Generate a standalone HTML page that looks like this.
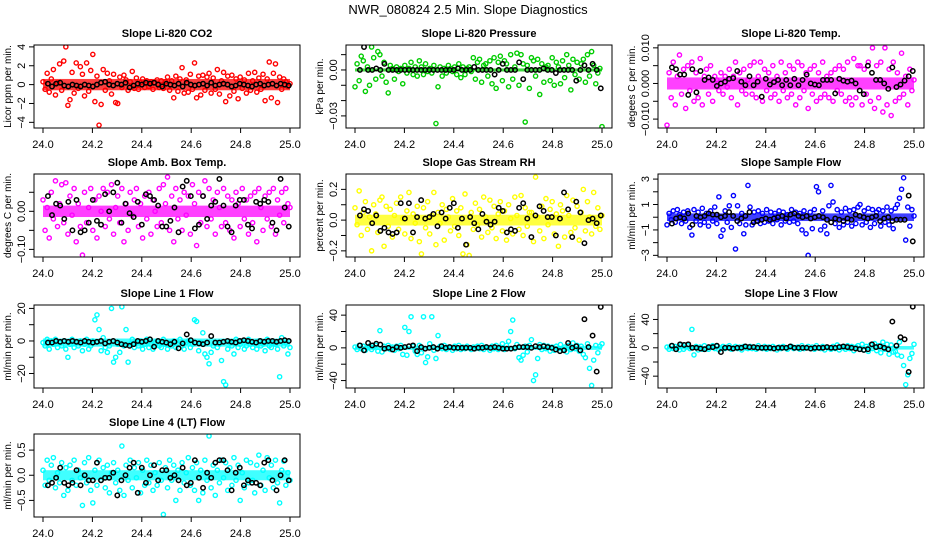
<!DOCTYPE html>
<html><head><meta charset="utf-8">
<style>
html,body{margin:0;padding:0;background:#fff;}
svg{display:block;font-family:"Liberation Sans",sans-serif;}
</style></head>
<body>
<svg id="chart" width="936" height="540" viewBox="0 0 936 540" xmlns="http://www.w3.org/2000/svg">
<text x="468" y="14" text-anchor="middle" font-size="13">NWR_080824  2.5 Min. Slope Diagnostics</text>
</svg>
<script>
const xTicks = [24.0, 24.2, 24.4, 24.6, 24.8, 25.0];
const xTickLabels = ["24.0", "24.2", "24.4", "24.6", "24.8", "25.0"];
const colorRange = [24.0, 25.0];
const blackRange = [24.02, 24.995];

const co2Vals = [0.3,-0.5,1.2,-0.8,0.6,1.6,-1.1,0.2,2.2,-0.6, 2.5,4.0,-2.2,-1.6,1.3,-0.9,2.3,-0.4,1.9,1.1, -1.2,2.3,-0.7,1.5,3.2,-1.8,0.9,-4.3,-2.1,1.6, -0.6,1.2,0.4,-1.0,1.1,-1.9,-2.0,0.8,-0.3,1.0, 0.5,-0.6,0.3,1.4,-0.4,0.7,-0.5,0.2,0.6,-0.3, 0.4,-0.2,0.3,-0.5,0.2,0.5,-0.3,0.4,-0.4,0.3, 0.8,-0.6,0.4,-1.4,0.9,-0.7,0.6,1.8,-0.9,0.5, -0.8,1.1,-0.5,2.3,-1.4,0.9,-1.1,1.0,-0.6,0.8, 1.2,-0.9,0.7,-0.5,1.6,-1.0,0.4,1.3,-1.8,0.9, -1.2,1.0,-0.7,0.6,-1.5,0.8,-0.4,0.5,-0.9,1.2, -0.6,0.4,1.3,-0.8,0.7,-0.5,1.1,-1.7,0.6,2.4, -1.4,1.2,2.2,-1.9,0.8,-0.5,0.6,0.3,-0.2,0.1];
const co2Black = [0.1,-0.2,0.1,0.2,-0.1,-0.2,0,-0.1,-0.2,0,-0.1,-0.2,0,0.2,0.3,0,-0.1,0.1,0,0.2,-0.3,-0.1,0.1,0,0.2,0.1,0.2,0,-0.2,0.1,0,-0.1,0.1,-0.2,0.2,0,-0.1,0,0.1,-0.1,0.2,-0.1,0,0.1,0,-0.2,-0.1,0.1,0,-0.1,-0.2,0,0.1,-0.1,0,0.1,-0.1,0.1,0,-0.1];

const presVals = [-0.011,0.004,-0.007,0.009,0.006,-0.014,0.002,-0.010,0.015,0.008, -0.006,0.012,0.010,-0.004,0.005,-0.008,-0.015,0.003,0.001,-0.006, 0.002,-0.001,0.001,-0.009,0.003,-0.002,0.001,0.005,-0.003,0.002, -0.004,0.006,0.002,-0.003,0.004,-0.001,0.001,-0.002,0.003,-0.035, -0.011,0.002,-0.004,0.001,-0.002,0.003,0.001,-0.001,0.002,-0.003, 0.004,-0.005,0.002,-0.003,0.001,0.002,-0.001,0.008,-0.006,0.005, 0.007,-0.008,0.003,0.004,-0.004,0.006,-0.009,0.008,-0.012,0.005, 0.009,-0.007,0.006,0.004,-0.011,0.010,-0.006,0.002,0.011,-0.010, 0.010,0.004,-0.034,0.003,-0.012,0.008,0.006,-0.004,0.007,-0.016, 0.004,-0.008,0.002,0.003,-0.007,0.008,-0.010,0.005,0.002,-0.009, 0.006,-0.005,0.010,0.003,-0.013,0.007,-0.003,0.005,-0.006,0.004, 0.007,-0.008,0.010,-0.004,0.012,0.003,-0.009,-0.002,0.001,-0.037];
const presBlack = [0,0.015,0,0,0.001,0,0.004,0,0,0, 0,0,0,0,0,0,0,0,0,0, 0,0,0,0,0.001,0,0,0,0.002,0, 0,0,0,-0.003,0,0.004,0,0,0,0.005, -0.006,0,0,0,0,0.001,0,0,-0.002,0, 0,0,0,-0.007,0,0.003,0,0.004,0,-0.012];

const tempVals = [-0.0117,0.003,-0.004,0.006,-0.006,0.002,0.008,-0.003,0.004,-0.007, 0.005,-0.002,0.006,-0.005,0.003,-0.004,0.007,-0.006,0.002,0.004, -0.003,0.005,-0.005,0.002,0.001,-0.002,0.003,-0.003,0.002,-0.001, 0.004,-0.004,0.002,0.006,-0.006,0.003,-0.002,0.004,-0.003,0.001, 0.005,-0.003,0.006,-0.004,0.002,0.006,-0.005,0.004,-0.002,0.003, -0.004,0.005,-0.003,0.002,-0.005,0.006,-0.002,0.003,-0.004,0.005, -0.003,0.004,-0.006,0.006,-0.004,0.005,-0.002,0.003,-0.007,0.004, -0.003,0.005,-0.005,0.003,-0.004,0.006,-0.003,0.002,-0.004,0.003, -0.005,0.004,-0.002,0.005,-0.003,0.004,-0.005,0.006,-0.004,-0.006, 0.007,-0.004,0.005,0.005,-0.006,0.004,-0.003,0.006,-0.005,0.010, -0.007,0.005,-0.004,0.006,-0.008,0.010,-0.006,0.004,-0.009,0.006, -0.005,0.003,-0.004,0.0085,-0.003,0.002,-0.006,0.004,-0.002,0.001];
const tempBlack = [0.0045,0.004,0.0025,0.0025,-0.0032,0.004,-0.0025,0.0035,0.001,0.0017, 0.001,-0.0007,0,0.0005,0.0013,0.0015,0.0035,0.0005,-0.0005,0.002, -0.0005,0.0005,-0.0037,0.0013,-0.0003,0.0004,0.001,-0.0005,0.001,-0.0005, 0.0013,-0.0005,0.001,0.0025,0,-0.0003,-0.0005,0.001,0.001,0.001, -0.0028,0.0013,0.0008,0.0005,0.0008,0,-0.002,-0.003,0.005,0.003, 0.001,0.001,0,-0.0015,0.0045,-0.001,-0.0003,0.0008,0.002,0.0035];

const ambVals = [0.03,-0.05,0.01,-0.07,0.05,-0.02,0.08,-0.04,0.02,0.07, -0.03,0.075,-0.06,0.04,-0.01,0.06,-0.08,0.02,-0.04,-0.115, 0.05,-0.03,0.01,0.06,-0.05,0.03,-0.07,0.04,0.00,0.06, -0.04,0.05,-0.02,0.07,-0.06,0.01,0.04,-0.03,0.06,-0.08, 0.02,-0.05,0.05,-0.01,0.03,0.06,-0.04,0.02,-0.07,0.04, -0.02,0.05,-0.06,0.03,0.00,-0.04,0.06,-0.03,0.07,0.02, 0.09,-0.05,0.04,-0.08,0.06,-0.02,0.03,-0.05,0.05,-0.01, 0.04,-0.06,0.07,0.02,-0.09,0.05,-0.03,0.04,0.08,-0.04, 0.06,-0.02,0.03,-0.06,0.05,0.01,-0.04,0.06,-0.03,0.04, -0.05,0.03,-0.07,0.05,0.02,-0.04,0.06,-0.02,0.03,-0.06, 0.04,-0.03,0.05,-0.08,0.06,0.01,-0.05,0.04,-0.02,0.05, -0.04,0.06,-0.06,0.03,-0.01,0.05,-0.03,0.06,0.02,0.01];
const ambBlack = [0.04,-0.01,0.02,0.015,-0.02,0.025,-0.05,0.03,-0.055,-0.05,-0.03,0.03,-0.025,-0.035,0.045,0,0.05,0.075,-0.03,0.02,-0.005,-0.015,0.025,-0.035,0.045,0.04,0.03,0.015,-0.04,-0.04,-0.025,0.01,-0.055,0.065,0.08,0.04,-0.045,-0.035,0.04,-0.02,0.015,0.025,0.085,0.015,-0.04,-0.055,0.015,0.03,0.03,-0.035,-0.045,0.025,0.02,0.03,0.025,-0.03,-0.05,0.085,0.01,-0.04];

const rhVals = [0.08,-0.03,0.19,-0.10,0.05,0.12,-0.06,0.02,-0.20,0.10, 0.04,-0.08,0.13,0.15,-0.17,0.09,-0.04,0.07,-0.11,0.03, 0.11,-0.06,0.15,0.01,-0.09,0.06,0.18,-0.12,0.04,-0.02, 0.09,-0.14,-0.22,0.08,-0.05,0.12,-0.09,0.03,0.18,-0.16, 0.05,-0.02,0.10,-0.13,0.07,0.02,-0.07,0.14,-0.04,0.06, -0.10,0.08,-0.22,0.17,-0.16,-0.23,0.05,-0.06,0.11,-0.03, 0.07,-0.11,0.15,0.02,-0.08,0.13,-0.05,0.09,-0.12,0.04, 0.12,-0.07,0.06,-0.13,0.10,0.01,-0.09,0.15,0.03,-0.06, 0.16,-0.10,0.08,-0.04,0.05,0.05,-0.14,0.28,0.02,-0.07, 0.09,-0.12,0.14,-0.03,0.07,0.12,-0.09,0.04,-0.17,0.10, 0.06,-0.11,0.16,0.03,-0.08,0.13,-0.05,0.09,-0.13,0.05, 0.20,-0.07,0.12,0.02,-0.09,0.18,-0.04,0.08,-0.06,0.03];
const rhBlack = [0.03,0.07,0.06,-0.02,0.03,-0.07,-0.05,-0.08,-0.09,-0.08, 0.11,0.01,0.11,-0.08,0.02,0.13,0.01,0.02,0.04,-0.04, 0.05,0.01,0.08,0.11,-0.05,0.01,-0.16,0.02,-0.02,-0.06, 0.04,-0.01,-0.03,-0.01,0.08,0.06,-0.08,-0.06,-0.07,0.08, 0.11,0.01,-0.11,0.03,0.09,0.06,0.02,0.02,-0.1,0.01, 0.18,0.07,-0.11,0.12,0.05,-0.15,0.0,0.01,-0.02,0.03];

const flowVals = [-0.6,0.3,-0.2,0.5,-0.4,0.6,0.2,-0.5,0.4,-0.3, 0.5,-0.8,-1.4,0.6,-0.3,0.4,-0.6,0.7,-0.4,0.3, -0.7,0.5,-0.3,0.8,-0.5,1.6,-1.5,-1.0,0.5,-0.4, 0.9,-0.8,1.7,-2.5,0.9,-0.5,0.3,-1.3,-0.6,2.5, 0.8,-0.6,0.4,-0.3,0.5,-0.5,0.3,-0.4,0.6,-0.3, 0.4,-0.5,0.3,-0.2,0.5,-0.6,0.4,-0.3,0.2,-0.4, 0.6,-0.3,0.4,-0.5,0.3,-1.0,0.5,-1.3,-3.0,0.4, -0.9,0.6,2.4,2.0,-1.0,0.5,-0.7,-1.3,0.9,2.5, 1.2,-0.5,0.6,-0.8,0.4,-0.6,0.7,-0.4,0.5,-0.7, 0.6,-0.5,0.8,1.0,-0.6,0.5,-0.4,0.7,-0.8,0.6, -0.5,0.4,0.6,-0.7,0.5,-0.4,0.8,-0.6,0.5,-0.9, 0.7,1.0,1.5,2.2,3.1,-1.8,0.8,-0.7,0.6,0.1];
const flowBlack = [-0.5,-0.1,0,-0.1,0.3,-0.6,0.1,0,0.1,0.3, 0.2,0.2,0,0.1,0.4,0.1,-0.3,-0.1,0.1,0.4, -0.4,-0.3,-0.2,-0.1,-0.2,-0.1,0,0.1,-0.1,0.2, 0.3,0.1,0,0.1,-0.1,0,0.1,0,-0.2,-0.4, -0.1,-0.2,-0.3,-0.1,-0.2,0.2,0.1,0,-0.1,0, 0.1,-0.3,-0.1,0,-0.3,-0.2,-0.2,-0.2,1.7,-1.9];

const line1Vals = [-1,-3,1,-5,0,-2,1,-4,-1,-3, 0,-5,-10,-2,1,-4,-1,-3,0,-6, -2,1,-5,-3,0,13,16,7,-6,2, -4,-7,-3,20,-13,-10,-2,-7,21,-3, 7,-13,-2,1,-4,-1,-3,0,-5,-2, 1,-4,-2,-5,-1,0,-3,-4,1,-2, -5,-1,-3,0,-4,-2,1,-3,-5,-1, 0,-4,-2,13,12,-6,-1,5,-8,-10, -14,-7,-3,-1,-4,-2,-12,-25,-27,-5, -1,-3,-8,1,-4,-2,0,-5,-3,1, -2,-4,-1,-5,0,-3,-2,-6,1,-3, -4,-1,-2,-5,-22,2,-3,-1,-8,-4];
const line1Black = [-1,-1,0,-0.5,0,-0.5,0,-0.5,-1,0, -0.5,-1,-0.5,0,-1.5,-0.5,0,-1,-2,-2.5, -3,-2,0,-0.5,0,1,-3.5,0,-0.5,-1, -2,-0.5,-4.5,-1.5,4,0.5,-1,-1.5,-2,-1, 3,-1,-1,-0.5,0,-0.5,-1,0,0.5,0, -0.5,-1,0,-0.5,0,0,-0.5,0,0.5,0];

const line2Vals = [1,-2,3,-1,2,-3,0,2,-2,1, 3,-4,21,-5,2,-1,3,-2,1,-3, 2,-1,3,-8,25,-9,20,38,2,-4, -8,3,-6,38,-18,-11,5,38,-3,-13, 15,2,-1,3,-2,1,0,-3,2,-1, 3,-2,1,-1,2,0,-2,1,-1,2, -1,3,-2,1,0,-3,2,-1,3,-2, 1,5,-2,3,8,20,34,-1,4,-12, -15,-9,2,-5,3,10,-40,-33,-13,4, -2,3,-1,2,-4,1,-3,2,-1,4, -2,1,-5,3,-2,6,-1,3,-4,2, -8,-12,5,-25,-46,-15,3,-6,2,5];
const line2Black = [3,-3,6,3,5,4,-1,0,-2,1, 0,1,2,3,-4,1,-1,0,1,-1, 2,0,1,0,0,0,0,0,-1,0, 0,1,0,1,0,-1,-1,-1,0,1, 1,1,0,2,1,2,1,0,-2,-4, -3,6,0,2,-3,35,1,15,-29,50];

const line3Vals = [1,-2,3,-1,2,0,-3,4,-2,1, 3,-1,26,-10,2,-3,1,-2,3,-1, -2,1,3,-1,2,-3,0,2,-1,1, 3,-2,0,2,-1,1,-3,2,0,-1, 2,-1,1,-2,3,0,-1,2,-2,1, -1,2,0,-3,1,-1,2,0,-2,1, 2,-1,0,1,-2,3,-1,0,2,-1, 1,-2,3,0,-1,2,-3,1,0,-2, 2,-1,4,-3,1,0,-2,3,-1,2, -4,1,3,-2,5,-3,2,-5,4,-1, 6,-4,3,-7,8,-2,5,-9,4,-6, -5,-10,8,-12,-25,-52,-38,-15,-8,5];
const line3Black = [3,-2,5,4,5,0,0,-1,-2,1, 1,3,-6,0,0,-1,0,0,2,1, 1,0,0,0,0,-1,0,0,0,2, 0,0,0,0,-1,0,0,0,1,0, 0,1,2,1,0,-1,-2,-3,-2,5, 1,2,0,-2,37,3,15,12,-34,58];

const line4Vals = [0.1,-0.2,0.3,-0.1,0.2,0.35,-0.25,0.05,-0.15,0.25, -0.4,0.15,-0.3,0.2,-0.1,0.3,-0.2,0.1,-0.05,-0.6, 0.25,-0.15,0.35,-0.3,-0.55,0.1,-0.2,0.3,-0.1,0.15, -0.25,0.2,-0.35,0.05,0.25,-0.15,0.1,-0.3,0.58,-0.4, 0.2,-0.1,0.3,-0.25,0.15,-0.05,0.25,-0.35,0.1,-0.2, 0.3,-0.15,0.2,-0.3,0.05,-0.2,0.25,-0.1,-0.78,0.15, -0.25,0.3,-0.1,0.2,-0.5,0.1,-0.3,0.25,-0.15,0.05, 0.35,-0.2,0.15,-0.3,0.25,-0.5,0.1,-0.35,0.3,-0.1, 0.78,-0.25,0.2,-0.4,0.1,-0.15,0.3,-0.05,0.25,-0.3, 0.15,-0.2,0.35,-0.1,0.2,-0.5,0.05,-0.25,0.3,-0.15, 0.25,-0.1,-0.35,0.2,0.4,-0.2,0.1,-0.3,0.35,-0.05, 0.2,-0.25,0.3,-0.15,-0.55,0.1,0.28,-0.2,0.05,-0.1];
const line4Black = [-0.2,-0.15,-0.05,0.15,-0.15,-0.2,-0.15,0.1,-0.2,0, -0.1,-0.1,0.25,-0.1,-0.05,-0.05,0.05,-0.4,-0.1,0, 0.15,0.25,-0.35,0.15,-0.15,0,0.2,-0.1,0.1,0.1, -0.05,0,-0.1,0.15,-0.2,-0.15,0.3,-0.05,-0.25,0.05, -0.05,0.25,0.3,0.3,0.1,-0.3,0.05,0.15,-0.2,-0.1, -0.15,-0.15,-0.2,0.25,0.3,-0.1,-0.3,0,0.3,-0.1];

const panels = [
 {name:"co2", title:"Slope Li-820 CO2", ylab:"Licor ppm per min.", ylim:[-4.6,4.2], ticks:[-4,-2,0,2,4], labels:["-4","-2","0","2","4"], color:"#ff0000", band:[-0.6,0.6], vals:co2Vals, black:co2Black, col:0, row:0},
 {name:"pressure", title:"Slope Li-820 Pressure", ylab:"kPa per min.", ylim:[-0.0379,0.0163], ticks:[-0.03,-0.02,-0.01,0,0.01], labels:["-0.03","","","0.00",""], color:"#00cd00", band:[-0.001,0.001], vals:presVals, black:presBlack, col:1, row:0},
 {name:"temp", title:"Slope Li-820 Temp.", ylab:"degees C per min.", ylim:[-0.0125,0.0108], ticks:[-0.01,-0.005,0,0.005,0.01], labels:["-0.010","","0.000","","0.010"], color:"#ff00ff", band:[-0.0017,0.0017], vals:tempVals, black:tempBlack, col:2, row:0},
 {name:"amb-box-temp", title:"Slope Amb. Box Temp.", ylab:"degrees C per min.", ylim:[-0.12,0.098], ticks:[-0.1,-0.05,0,0.05], labels:["-0.10","","0.00",""], color:"#ff00ff", band:[-0.015,0.015], vals:ambVals, black:ambBlack, col:0, row:1},
 {name:"gas-rh", title:"Slope Gas Stream RH", ylab:"percent per min.", ylim:[-0.24,0.30], ticks:[-0.2,-0.1,0,0.1,0.2], labels:["-0.2","","0.0","","0.2"], color:"#ffff00", band:[-0.035,0.035], vals:rhVals, black:rhBlack, col:1, row:1},
 {name:"sample-flow", title:"Slope Sample Flow", ylab:"ml/min per min.", ylim:[-3.13,3.4], ticks:[-3,-2,-1,0,1,2,3], labels:["-3","","-1","","1","","3"], color:"#0000ff", band:[-0.3,0.3], vals:flowVals, black:flowBlack, col:2, row:1},
 {name:"line1-flow", title:"Slope Line 1 Flow", ylab:"ml/min per min.", ylim:[-28.9,22.1], ticks:[-20,-10,0,10,20], labels:["-20","","0","","20"], color:"#00ffff", band:[-3.5,1.5], vals:line1Vals, black:line1Black, col:0, row:2},
 {name:"line2-flow", title:"Slope Line 2 Flow", ylab:"ml/min per min.", ylim:[-49.1,52.4], ticks:[-40,-20,0,20,40], labels:["-40","","0","","40"], color:"#00ffff", band:[-2.5,2.5], vals:line2Vals, black:line2Black, col:1, row:2},
 {name:"line3-flow", title:"Slope Line 3 Flow", ylab:"ml/min per min.", ylim:[-56.7,60.4], ticks:[-40,-20,0,20,40], labels:["-40","","0","","40"], color:"#00ffff", band:[-2.5,2.5], vals:line3Vals, black:line3Black, col:2, row:2},
 {name:"line4-flow", title:"Slope Line 4 (LT) Flow", ylab:"ml/min per min.", ylim:[-0.83,0.82], ticks:[-0.5,0,0.5], labels:["-0.5","0.0","0.5"], color:"#00ffff", band:[-0.1,0.1], vals:line4Vals, black:line4Black, col:0, row:3}
];

const NS = "http://www.w3.org/2000/svg";
const svg = document.getElementById("chart");
const colLeft = [34, 346, 658];
const rowTop = [45, 174, 305, 434];
const boxW = 266, boxH = 83;

function mk(tag, attrs, parent) {
  const e = document.createElementNS(NS, tag);
  for (const k in attrs) e.setAttribute(k, attrs[k]);
  parent.appendChild(e);
  return e;
}

panels.forEach(p => {
  const L = colLeft[p.col], T = rowTop[p.row], B = T + boxH, R = L + boxW;
  const g = mk("g", {}, svg);
  
  
  const xs = v => L + 9 + (v - 24) / 1 * 247;
  const ys = v => B - (v - p.ylim[0]) / (p.ylim[1] - p.ylim[0]) * boxH;

  const t = mk("text", {x: L + boxW / 2, y: T - 8, "text-anchor": "middle", "font-size": "11", "font-weight": "bold"}, g);
  t.textContent = p.title;
  
  

  const cid = "clip-" + p.name;
  const cp = mk("clipPath", {id: cid}, g);
  mk("rect", {x: L, y: T, width: boxW, height: boxH}, cp);
  const plot = mk("g", {"clip-path": "url(#" + cid + ")"}, g);
  
  

  const band = mk("rect", {x: xs(colorRange[0]), y: ys(p.band[1]), width: xs(colorRange[1]) - xs(colorRange[0]), height: ys(p.band[0]) - ys(p.band[1]), fill: p.color, "fill-opacity": 0.75}, plot);
  
  

  const n = p.vals.length;
  p.vals.forEach((v, i) => {
    const x = colorRange[0] + (colorRange[1] - colorRange[0]) * i / (n - 1);
    const c = mk("circle", {cx: xs(x), cy: ys(v), r: 2.1, fill: "none", stroke: p.color, "stroke-width": 1.4}, plot);
    
    
  });
  const m = p.black.length;
  p.black.forEach((v, i) => {
    const x = blackRange[0] + (blackRange[1] - blackRange[0]) * i / (m - 1);
    const c = mk("circle", {cx: xs(x), cy: ys(v), r: 2.2, fill: "none", stroke: "#000", "stroke-width": 1.5}, plot);
    
    
  });

  const box = mk("rect", {x: L, y: T, width: boxW, height: boxH, fill: "none", stroke: "#000", "stroke-width": 1}, g);
  
  

  const xa = mk("g", {}, g);
  
  
  mk("line", {x1: xs(xTicks[0]), x2: xs(xTicks[xTicks.length - 1]), y1: B, y2: B, stroke: "#000"}, xa);
  xTicks.forEach((tv, i) => {
    mk("line", {x1: xs(tv), x2: xs(tv), y1: B, y2: B + 5, stroke: "#000"}, xa);
    const lt = mk("text", {x: xs(tv), y: B + 20, "text-anchor": "middle", "font-size": "11"}, xa);
    lt.textContent = xTickLabels[i];
    
    
  });

  const ya = mk("g", {}, g);
  
  
  mk("line", {x1: L, x2: L, y1: ys(p.ticks[0]), y2: ys(p.ticks[p.ticks.length - 1]), stroke: "#000"}, ya);
  p.ticks.forEach((tv, i) => {
    mk("line", {x1: L - 5, x2: L, y1: ys(tv), y2: ys(tv), stroke: "#000"}, ya);
    if (p.labels[i]) {
      const lx = L - 9, ly = ys(tv);
      const lt = mk("text", {x: lx, y: ly, "text-anchor": "middle", "font-size": "11", transform: "rotate(-90 " + lx + " " + ly + ")"}, ya);
      lt.textContent = p.labels[i].replace("-", "\u2212");
      
      
    }
  });
  const yx = L - 23, yy = T + boxH / 2;
  const yl = mk("text", {x: yx, y: yy, "text-anchor": "middle", "font-size": "10", transform: "rotate(-90 " + yx + " " + yy + ")"}, g);
  yl.textContent = p.ylab;
  
  
});
</script>
</body></html>
